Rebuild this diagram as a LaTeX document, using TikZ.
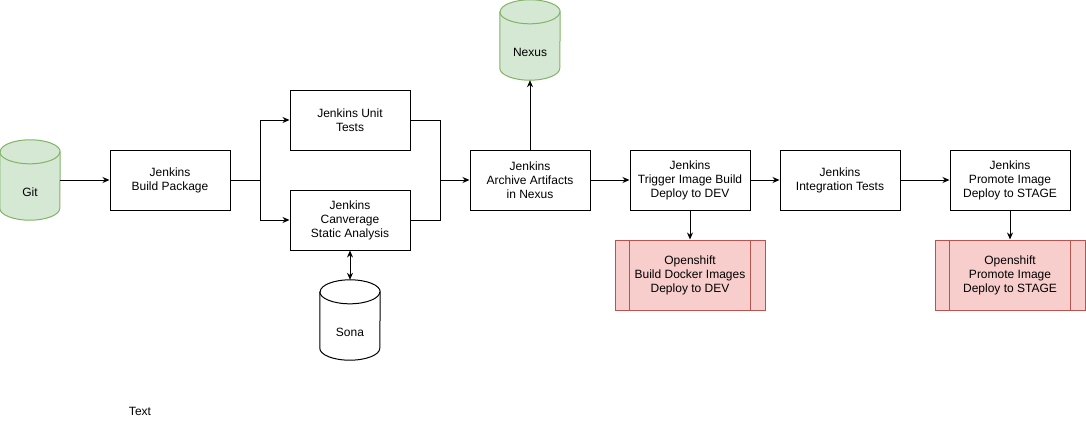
\documentclass[tikz,border=0pt]{standalone}
\usepackage{fontspec}
\setmainfont{Liberation Sans}
\usetikzlibrary{arrows.meta,backgrounds}
\definecolor{greenfill}{HTML}{D5E8D4}
\definecolor{greenline}{HTML}{82B366}
\definecolor{redfill}{HTML}{F8CECC}
\definecolor{redline}{HTML}{B85450}
\tikzset{
  box/.style={draw, line width=1pt, minimum width=120pt, minimum height=60pt,
    align=center, font=\fontsize{12}{14}\selectfont},
  store/.style={minimum width=60pt, minimum height=80pt, inner sep=0pt,
    label={[yshift=-12pt, font=\fontsize{12}{14}\selectfont]center:#1}},
  shiftbox/.style={box, fill=redfill, draw=redline, minimum width=150pt, minimum height=70pt},
  flow/.style={line width=1pt, -{Stealth[length=7pt,width=6pt]}}
}
% cylinder drawn behind a store node: name, fill, line
\newcommand{\drawstore}[3]{%
  \begin{pgfonlayer}{background}
    \filldraw[fill=#2, draw=#3, line width=1pt]
      ([yshift=-12pt]#1.north west) -- ([yshift=12pt]#1.south west)
      arc[start angle=180, end angle=360, x radius=30pt, y radius=12pt]
      -- ([yshift=-12pt]#1.north east)
      arc[start angle=0, end angle=180, x radius=30pt, y radius=12pt] -- cycle;
    \draw[draw=#3, line width=1pt] ([yshift=-12pt]#1.north west)
      arc[start angle=180, end angle=360, x radius=30pt, y radius=12pt];
  \end{pgfonlayer}}
\begin{document}
\begin{tikzpicture}[x=1pt,y=-1pt]
    \useasboundingbox (0,0) rectangle (1086,423);

    % Stores
    \node[store=Git] (git) at (30,180) {};
    \drawstore{git}{greenfill}{greenline}
    \node[store=Nexus] (nexus) at (530,40) {};
    \drawstore{nexus}{greenfill}{greenline}
    \node[store=Sona] (sona) at (350,320) {};
    \drawstore{sona}{white}{black}

    % Jenkins stages
    \node[box] (build) at (170,180) {Jenkins\\Build Package};
    \node[box] (unit) at (350,120) {Jenkins Unit\\Tests};
    \node[box] (canv) at (350,220) {Jenkins\\Canverage\\Static Analysis};
    \node[box] (archive) at (530,180) {Jenkins\\Archive Artifacts\\in Nexus};
    \node[box] (trigger) at (690,180) {Jenkins\\Trigger Image Build\\Deploy to DEV};
    \node[box] (integ) at (840,180) {Jenkins\\Integration Tests};
    \node[box] (promote) at (1010,180) {Jenkins\\Promote Image\\Deploy to STAGE};

    % Openshift steps
    \node[shiftbox] (os1) at (690,275) {Openshift\\Build Docker Images\\Deploy to DEV};
    \node[shiftbox] (os2) at (1010,275) {Openshift\\Promote Image\\Deploy to STAGE};
    \foreach \n in {os1,os2} {
      \draw[redline, line width=1pt] ([xshift=15pt]\n.north west) -- ([xshift=15pt]\n.south west);
      \draw[redline, line width=1pt] ([xshift=-15pt]\n.north east) -- ([xshift=-15pt]\n.south east);
    }

    \node[font=\fontsize{12}{14}\selectfont] (txt) at (140,411) {Text};

    % Connectors
    \coordinate (split) at (260,180);
    \coordinate (merge) at (440,180);
    \draw[flow] (git) -- (build);
    \draw[line width=1pt] (build) -- (split);
    \draw[flow] (split) |- (unit);
    \draw[flow] (split) |- (canv);
    \draw[line width=1pt] (unit) -| (merge);
    \draw[line width=1pt] (canv) -| (merge);
    \draw[flow] (merge) -- (archive);
    \draw[flow] (archive) -- (nexus);
    \draw[flow] (archive) -- (trigger);
    \draw[flow] (trigger) -- (integ);
    \draw[flow] (integ) -- (promote);
    \draw[flow] (trigger) -- (os1);
    \draw[flow] (promote) -- (os2);
    \draw[flow, {Stealth[length=7pt,width=6pt]}-{Stealth[length=7pt,width=6pt]}] (canv) -- (sona);
\end{tikzpicture}
\end{document}
